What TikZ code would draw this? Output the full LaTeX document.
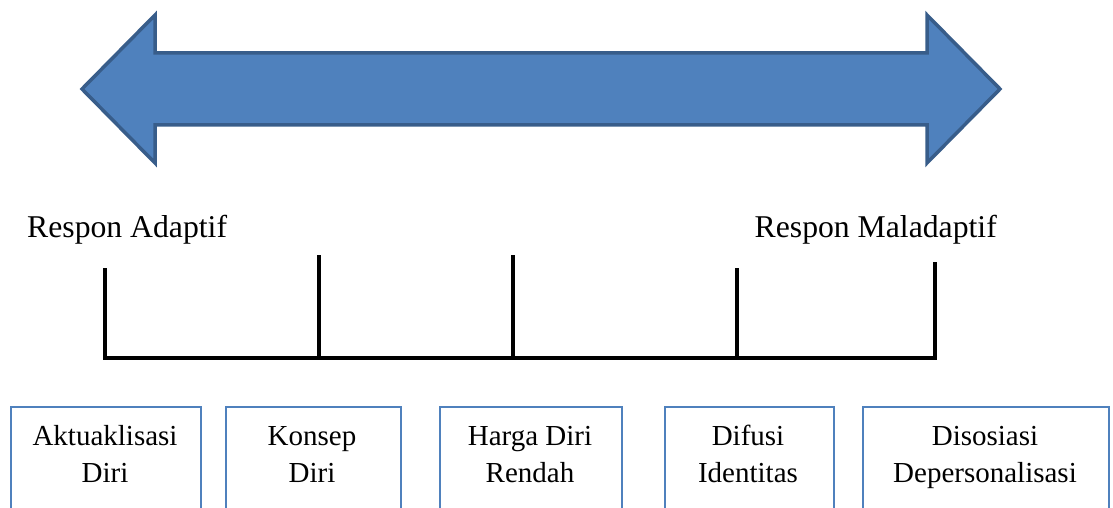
\documentclass[tikz,border=0pt]{standalone}
\usepackage{fontspec}
\setmainfont{Liberation Serif}
\definecolor{arrowfill}{HTML}{4F81BD}
\definecolor{arrowline}{HTML}{385D8A}
\definecolor{boxline}{HTML}{4F81BD}
\begin{document}
\begin{tikzpicture}[x=1pt,y=-1pt,
  scaleline/.style={line width=3.3pt,black},
  boxframe/.style={draw=boxline,line width=1.5pt,rectangle,inner sep=0pt,anchor=north west},
  boxtext/.style={align=center,inner sep=0pt,anchor=base,font=\fontsize{29}{37}\selectfont},
  resplabel/.style={inner sep=0pt,font=\fontsize{31.7}{38}\selectfont}]
\useasboundingbox (0,0) rectangle (1113,508);
\clip (0,0) rectangle (1113,508);
% double arrow
\draw[fill=arrowfill,draw=arrowline,line width=3.5pt,line join=miter]
  (82,89) -- (155,15) -- (155,53) -- (927,53) -- (927,15) -- (1000,89)
  -- (927,163) -- (927,125) -- (155,125) -- (155,163) -- cycle;
% labels
\node[resplabel,anchor=base west] (adaptif) at (27,237) {Respon Adaptif};
\node[resplabel,anchor=base east] (maladaptif) at (997,237) {Respon Maladaptif};
% scale
\coordinate (b1) at (105,358); \coordinate (t1) at (105,268);
\coordinate (b2) at (319,358); \coordinate (t2) at (319,255);
\coordinate (b3) at (513,358); \coordinate (t3) at (513,255);
\coordinate (b4) at (737,358); \coordinate (t4) at (737,268);
\coordinate (b5) at (935,358); \coordinate (t5) at (935,262);
\draw[scaleline,line join=miter] (t1) -- (b1) -- (b5) -- (t5);
\draw[scaleline] (t2) -- (b2);
\draw[scaleline] (t3) -- (b3);
\draw[scaleline] (t4) -- (b4);
% boxes
\node[boxframe,minimum width=190pt,minimum height=130pt] (box1) at (10,406) {};
\node[boxframe,minimum width=175pt,minimum height=130pt] (box2) at (225,406) {};
\node[boxframe,minimum width=182pt,minimum height=130pt] (box3) at (439,406) {};
\node[boxframe,minimum width=169pt,minimum height=130pt] (box4) at (664,406) {};
\node[boxframe,minimum width=246pt,minimum height=130pt] (box5) at (862,406) {};
\node[boxtext] (txt1) at (105,482) {Aktuaklisasi\\Diri};
\node[boxtext] (txt2) at (312,482) {Konsep\\Diri};
\node[boxtext] (txt3) at (530,482) {Harga Diri\\Rendah};
\node[boxtext] (txt4) at (748,482) {Difusi\\Identitas};
\node[boxtext] (txt5) at (985,482) {Disosiasi\\Depersonalisasi};
\end{tikzpicture}
\end{document}
